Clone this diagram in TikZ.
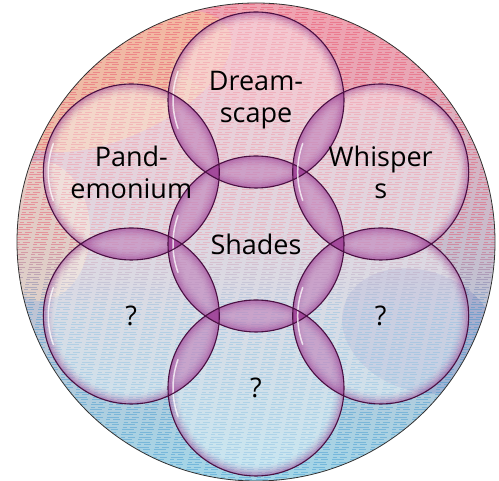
\documentclass[tikz,border=0pt]{standalone}
\usepackage{fontspec}
\setsansfont{Open Sans}
\usetikzlibrary{positioning,backgrounds}
\definecolor{bubbleline}{HTML}{4A1042}
\definecolor{bubbleglow}{HTML}{8A2482}
\definecolor{lensfill}{HTML}{9C3A94}
\definecolor{washtop}{HTML}{F0A2B0}
\definecolor{washmid}{HTML}{F6D2DA}
\definecolor{washbot}{HTML}{A2D6E8}
\definecolor{streakred}{HTML}{E8405E}
\definecolor{streakblue}{HTML}{2F8FCC}
\definecolor{peach}{HTML}{F8C498}
\definecolor{dusk}{HTML}{6A70BC}
\tikzset{
  bubble/.style={
    circle, minimum size=176pt, inner sep=0pt,
    align=center, font=\sffamily\fontsize{27}{32}\selectfont
  },
  bubbleveil/.style={fill=white, fill opacity=.4},
  bubbleedge/.style={draw=bubbleline, line width=1.1pt},
  lens/.style={fill=lensfill, fill opacity=.4},
  shine/.style={draw=white, opacity=.75, line width=1.5pt, line cap=round}
}

\begin{document}
\begin{tikzpicture}[x=1pt, y=1pt]
  \useasboundingbox (0,0) rectangle (499,481);
  \node[circle, minimum size=478pt, inner sep=0pt] (disc) at (256,239) {};

  \node[bubble] (shades) at (256,237) {Shades};
  \node[bubble, shift={(90:144pt)}] (dream) at (shades) {Dream-\\scape};
  \node[bubble, shift={(30:144pt)}] (whisp) at (shades) {Whisper\\s};
  \node[bubble, shift={(-30:144pt)}] (qright) at (shades) {?};
  \node[bubble, shift={(-90:144pt)}] (qbottom) at (shades) {?};
  \node[bubble, shift={(-150:144pt)}] (qleft) at (shades) {?};
  \node[bubble, shift={(150:144pt)}] (pand) at (shades) {Pand-\\emonium};

  \begin{scope}[on background layer]
    % watercolour wash
    \begin{scope}
      \clip (disc.center) circle[radius=239pt];
      \shade[top color=washtop, middle color=washmid, bottom color=washbot] (0,0) rectangle (499,481);
      \fill[peach, opacity=.6] (120,400) ellipse[x radius=120pt, y radius=55pt, rotate=25];
      \fill[peach!60!white, opacity=.5] (40,250) ellipse[x radius=50pt, y radius=70pt];
      \fill[dusk, opacity=.25] (420,150) ellipse[x radius=80pt, y radius=60pt, rotate=-20];
      \fill[streakred!50!white, opacity=.35] (330,420) ellipse[x radius=150pt, y radius=50pt];
      \foreach \y in {1,3.5,...,480} {
        \pgfmathtruncatemacro{\m}{min(100,max(0,(\y-170)*1.4))}
        \pgfmathsetmacro{\ph}{mod(\y*7,36)}
        \draw[streakred!\m!streakblue, opacity=.4, line width=1pt,
          dash pattern=on 7pt off 4pt on 12pt off 6pt on 4pt off 3pt, dash phase=\ph pt]
          (0,\y) -- (499,\y);
      }
    \end{scope}
    \draw[line width=.8pt, black!80] (disc.center) circle[radius=239pt];

    % bubbles
    \foreach \n in {shades,dream,whisp,qright,qbottom,qleft,pand}
      \fill[bubbleveil] (\n.center) circle[radius=88pt];
    \foreach \n in {shades,dream,whisp,qright,qbottom,qleft,pand}
      \foreach \k in {0,...,8} {
        \pgfmathsetmacro{\o}{0.45*(1-\k/9)^2}
        \draw[bubbleglow, opacity=\o, line width=1.3pt] (\n.center) circle[radius=87.4pt-\k*1.3pt];
      }
    \foreach \a/\b in {shades/dream,shades/whisp,shades/qright,shades/qbottom,shades/qleft,shades/pand,
        dream/whisp,whisp/qright,qright/qbottom,qbottom/qleft,qleft/pand,pand/dream} {
      \begin{scope}
        \clip (\a.center) circle[radius=88pt];
        \fill[lens] (\b.center) circle[radius=88pt];
      \end{scope}
    }
    \foreach \n in {shades,dream,whisp,qright,qbottom,qleft,pand} {
      \draw[shine] ([shift={(160:83pt)}]\n.center) arc[start angle=160, end angle=200, radius=83pt];
      \draw[bubbleedge] (\n.center) circle[radius=88pt];
    }
  \end{scope}
\end{tikzpicture}
\end{document}
